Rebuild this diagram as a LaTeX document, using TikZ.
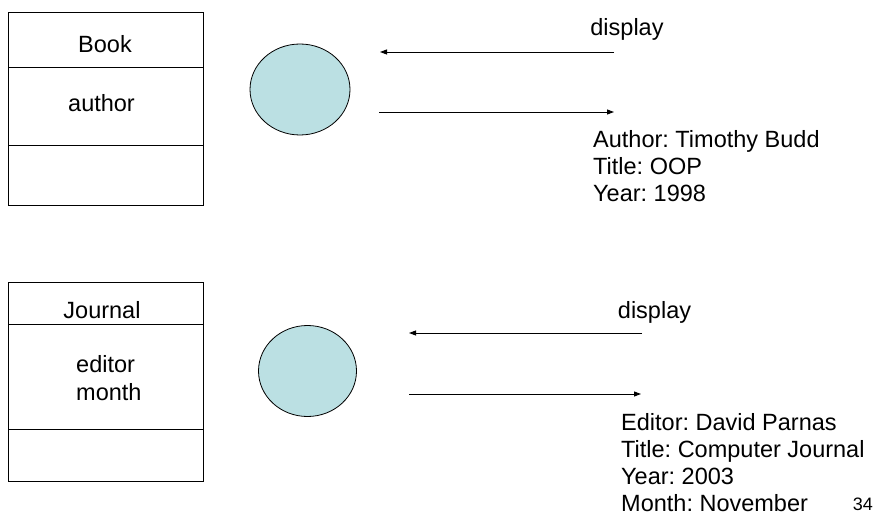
\documentclass[tikz,border=0pt]{standalone}
\usepackage{fontspec}
\setmainfont{Liberation Sans}
\usetikzlibrary{positioning,shapes.geometric,arrows.meta}
\definecolor{objfill}{RGB}{187,224,227}
\frenchspacing

\begin{document}
\begin{tikzpicture}[x=1pt,y=-1pt]
        \tikzstyle{every node}=[font=\fontsize{23.5}{27}\selectfont, inner sep=0pt]
        \tikzstyle{cell}=[draw, line width=0.9pt, minimum width=195pt, outer sep=0pt]
        \tikzstyle{obj}=[draw, ellipse, fill=objfill, line width=0.8pt]
        \tikzstyle{msg}=[line width=0.9pt, -{Triangle[length=7pt,width=5pt]}]

        \useasboundingbox (0,0) rectangle (888,521);

        % Book class and object
        \node (bookname) [cell, minimum height=55pt] at (105.5,39.5) {};
        \node (bookattr) [cell, minimum height=78pt, below=0pt of bookname] {};
        \node (bookops)  [cell, minimum height=60pt, below=0pt of bookattr] {};
        \node (booktitle) [anchor=base] at (105,53) {Book};
        \node (bookfield) [anchor=base] at (101.5,112) {author};

        \node (bookobj) [obj, minimum width=100pt, minimum height=91pt] at (300,89.5) {};

        \coordinate (bookdispA) at (614,52);
        \coordinate (bookdispB) at (380,52);
        \coordinate (bookretA)  at (379,112);
        \coordinate (bookretB)  at (614,112);
        \draw[msg] (bookdispA) -- (bookdispB);
        \draw[msg] (bookretA) -- (bookretB);
        \node (bookmsg) [anchor=base] at (627,36) {display};
        \node (bookout) [anchor=north west, align=left] at (593,130)
            {Author: Timothy Budd\\Title: OOP\\Year: 1998};

        % Journal class and object
        \node (jrnlname) [cell, minimum height=42pt] at (105.5,303) {};
        \node (jrnlattr) [cell, minimum height=105pt, below=0pt of jrnlname] {};
        \node (jrnlops)  [cell, minimum height=52pt, below=0pt of jrnlattr] {};
        \node (jrnltitle) [anchor=base] at (102,318) {Journal};
        \node (jrnlfield) [anchor=north west, align=left, font=\fontsize{23.5}{28}\selectfont] at (76,355)
            {editor\\month};

        \node (jrnlobj) [obj, minimum width=98pt, minimum height=91pt] at (307.5,371) {};

        \coordinate (jrnldispA) at (642,333);
        \coordinate (jrnldispB) at (409,333);
        \coordinate (jrnlretA)  at (409,394);
        \coordinate (jrnlretB)  at (641,394);
        \draw[msg] (jrnldispA) -- (jrnldispB);
        \draw[msg] (jrnlretA) -- (jrnlretB);
        \node (jrnlmsg) [anchor=base] at (654.5,318) {display};
        \node (jrnlout) [anchor=north west, align=left] at (621,413)
            {Editor: David Parnas\\Title: Computer Journal\\Year: 2003\\Month: November};

        \node (pagenum) [anchor=base east, font=\fontsize{18}{20}\selectfont] at (873,510) {34};

    \end{tikzpicture}
\end{document}
